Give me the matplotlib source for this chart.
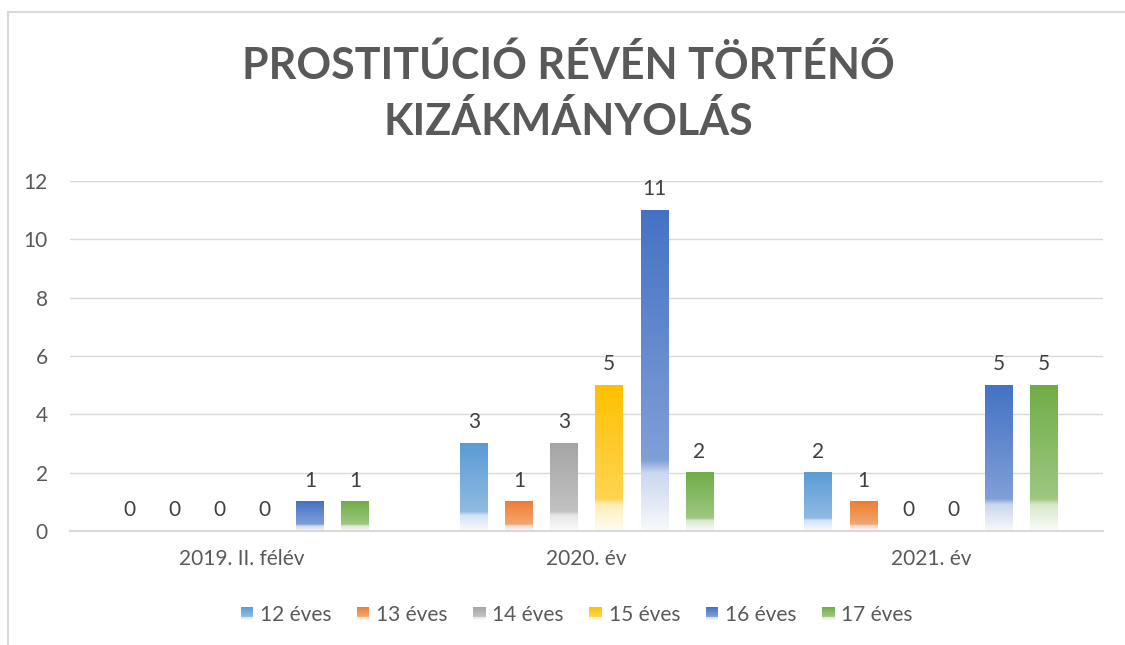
import numpy as np
import matplotlib
matplotlib.use("Agg")
import matplotlib.pyplot as plt
from matplotlib.colors import LinearSegmentedColormap, to_rgb
from matplotlib.patches import Rectangle
from matplotlib.legend_handler import HandlerBase

plt.rcParams['font.family'] = ['Lato', 'DejaVu Sans']

title = "PROSTITÚCIÓ RÉVÉN TÖRTÉNŐ\nKIZÁKMÁNYOLÁS"
categories = ["2019. II. félév", "2020. év", "2021. év"]
series_names = ["12 éves", "13 éves", "14 éves", "15 éves", "16 éves", "17 éves"]
values_12 = [0, 3, 2]
values_13 = [0, 1, 1]
values_14 = [0, 3, 0]
values_15 = [0, 5, 0]
values_16 = [1, 11, 5]
values_17 = [1, 2, 5]
series_values = [values_12, values_13, values_14, values_15, values_16, values_17]
colors = ["#5B9BD5", "#ED7D31", "#A5A5A5", "#FFC000", "#4472C4", "#70AD47"]
yticks = [0, 2, 4, 6, 8, 10, 12]

TXT = "#595959"
GRID = "#D9D9D9"
FS = 15


def grad_cmap(c):
    c = np.array(to_rgb(c))
    w = np.ones(3)
    def mix(f):
        return tuple(c * f + w * (1 - f))
    stops = [(0.0, mix(1.0)), (0.78, mix(0.68)), (0.82, mix(0.28)), (1.0, mix(0.04))]
    return LinearSegmentedColormap.from_list("g", stops)


fig = plt.figure(figsize=(11.25, 6.45), dpi=100)
# chart border (left & top visible)
fig.add_artist(plt.Line2D([7.5 / 1125, 7.5 / 1125], [0, 1 - 11.5 / 645], transform=fig.transFigure,
                          color="#D9D9D9", lw=1.5))
fig.add_artist(plt.Line2D([7.5 / 1125, 1], [1 - 11.5 / 645, 1 - 11.5 / 645], transform=fig.transFigure,
                          color="#D9D9D9", lw=1.5))

ax = fig.add_axes([70 / 1125, 1 - 531 / 645, (1103 - 70) / 1125, (531 - 181) / 645])
n = len(series_names)
step = 0.131
width = 0.079
x = np.arange(len(categories))
for i, (name, vals, col) in enumerate(zip(series_names, series_values, colors)):
    cm = grad_cmap(col)
    xs = x + (i - (n - 1) / 2) * step
    bars = ax.bar(xs, vals, width, color="none", edgecolor="none", label=name)
    grad = cm(np.linspace(0, 1, 256))[:, None, :3]
    for b, v in zip(bars, vals):
        x0 = b.get_x()
        if v > 0:
            ax.imshow(grad, extent=[x0, x0 + width, 0, v], aspect="auto", origin="upper",
                      zorder=2, interpolation="bilinear")
        ax.annotate(f"{v}", (x0 + width / 2, v), xytext=(0, 8), textcoords="offset points",
                    ha="center", va="bottom", fontsize=FS, color="#404040")

ax.set_xlim(-0.5, len(categories) - 0.5)
ax.set_ylim(0, 12)
ax.set_aspect("auto")
ax.set_yticks(yticks)
ax.set_xticks(x)
ax.set_xticklabels(categories)
ax.tick_params(axis="both", length=0, labelsize=FS, labelcolor=TXT)
ax.tick_params(axis="y", pad=16)
ax.tick_params(axis="x", pad=13)
ax.grid(axis="y", color=GRID, lw=1, zorder=0)
ax.set_axisbelow(True)
for s in ["left", "right", "top"]:
    ax.spines[s].set_visible(False)
ax.spines["bottom"].set_color(GRID)
ax.spines["bottom"].set_linewidth(1.5)


class GradHandler(HandlerBase):
    def create_artists(self, legend, orig_handle, xdescent, ydescent, width, height, fontsize, trans):
        col = orig_handle._gcol
        cm = grad_cmap(col)
        k = 16
        side = height
        x0 = -xdescent + (width - side) / 2
        y0 = -ydescent
        arts = []
        for j in range(k):
            t = (j + 0.5) / k
            r = Rectangle((x0, y0 + side - (j + 1) * side / k), side, side / k + 0.3,
                          facecolor=cm(t), edgecolor="none", transform=trans)
            arts.append(r)
        return arts


handles = []
for name, col in zip(series_names, colors):
    h = Rectangle((0, 0), 1, 1)
    h._gcol = col
    handles.append(h)

fig.legend(handles, series_names, handler_map={Rectangle: GradHandler()}, loc="center",
           bbox_to_anchor=(577 / 1125, 1 - 615 / 645), ncol=6, frameon=False,
           fontsize=FS, labelcolor=TXT, handlelength=0.55, handleheight=0.55,
           handletextpad=0.35, columnspacing=1.25)

fig.text(568 / 1125, 1 - 93.5 / 645, title, ha="center", va="center", fontsize=31,
         fontweight="bold", color=TXT, linespacing=1.45)

fig.savefig("out.png", dpi=100)
